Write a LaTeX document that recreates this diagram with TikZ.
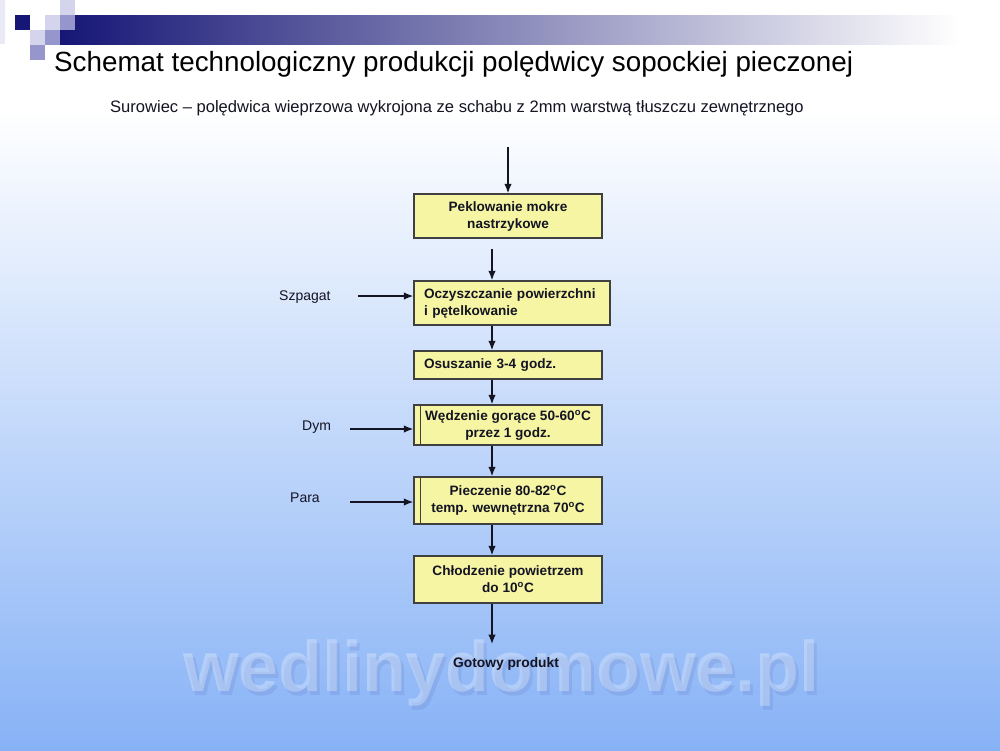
\documentclass[tikz,border=0pt]{standalone}
\usepackage{fontspec}
\setmainfont{Liberation Sans}
\usetikzlibrary{arrows.meta}
\definecolor{boxfill}{RGB}{245,245,163}
\definecolor{boxline}{RGB}{64,64,64}
\definecolor{navy}{RGB}{22,22,118}
\definecolor{lav}{RGB}{212,212,236}
\definecolor{midlav}{RGB}{150,150,204}
\definecolor{skymid}{RGB}{200,216,250}
\definecolor{skyend}{RGB}{135,178,246}
\definecolor{ink}{RGB}{20,20,35}
\tikzstyle{proc} = [draw=boxline, fill=boxfill, line width=1.4pt, text=ink, align=center, minimum width=188pt, inner sep=0pt, font={\bfseries\fontsize{13.6}{17}\selectfont}]
\tikzstyle{lproc} = [proc, align=left, inner xsep=10pt]
\tikzstyle{side} = [anchor=base west, inner sep=0pt, text=ink, font={\fontsize{14}{17}\selectfont}]
\tikzstyle{flow} = [draw=ink, line width=1.4pt, ->]
\tikzstyle{wmark} = [anchor=base west, inner sep=0pt, font={\bfseries\fontsize{71.5}{80}\selectfont}]

\begin{document}
\begin{tikzpicture}[x=1pt,y=-1pt,>={Latex[length=9.5pt,width=7.5pt]}]
        \fill[white](0,0) rectangle (1000,110);
        \shade[top color=white,middle color=skymid,bottom color=skyend](0,110) rectangle (1000,750);
        \useasboundingbox (0,0) rectangle (1000,750);
        \fill[lav!50](0,0) rectangle (5,44);
        \shade[left color=navy,right color=white](60,15) rectangle (960,44);
        \foreach \x/\y/\c in {15/15/navy,45/15/lav,60/0/lav,60/15/midlav,30/30/lav,45/30/midlav,30/45/midlav}
          \fill[\c](\x,\y) rectangle ++(15,15);
        \node[anchor=base west,inner sep=0pt,font={\fontsize{27.8}{32}\selectfont}](title) at (54,71){Schemat technologiczny produkcji polędwicy sopockiej pieczonej};
        \node[side,font={\fontsize{16.55}{19}\selectfont}](sub) at (110,112){Surowiec -- polędwica wieprzowa wykrojona ze schabu z 2mm warstwą tłuszczu zewnętrznego};
        \node[wmark,text=blue!40!black,text opacity=0.07](wms) at (186,695){wedlinydomowe.pl};
        \node[wmark,text=white,text opacity=0.28](wm) at (183,691){wedlinydomowe.pl};
        \node[proc,minimum height=44pt](1) at (508,216){Peklowanie mokre\\nastrzykowe};
        \node[lproc,text width=176pt,minimum height=44pt](2) at (512,303){Oczyszczanie powierzchni\\i pętelkowanie};
        \node[lproc,text width=168pt,minimum height=28pt](3) at (508,365){Osuszanie 3-4 godz.};
        \node[proc,minimum height=40pt](4) at (508,425){Wędzenie gorące 50-60\textsuperscript{o}C\\przez 1 godz.};
        \node[proc,minimum height=47pt](5) at (508,500.5){Pieczenie 80-82\textsuperscript{o}C\\temp. wewnętrzna 70\textsuperscript{o}C};
        \node[proc,minimum height=47pt](6) at (508,579.5){Chłodzenie powietrzem\\do 10\textsuperscript{o}C};
        \node[text=ink,font={\bfseries\fontsize{13.8}{17}\selectfont}](7) at (506,664){Gotowy produkt};
        \draw[boxline,line width=1.2pt]([xshift=7pt]4.north west)--([xshift=7pt]4.south west);
        \draw[boxline,line width=1.2pt]([xshift=7pt]5.north west)--([xshift=7pt]5.south west);
        \node[side](sz) at (279,300){Szpagat};
        \node[side](dym) at (302,430){Dym};
        \node[side](para) at (290,502){Para};
        \coordinate (in) at (508,147);
        \coordinate (c) at (492,249);
        \coordinate (sz0) at (358,296);
        \coordinate (dym0) at (350,429);
        \coordinate (para0) at (350,502);
        \draw[flow](in)--(1);
        \draw[flow](c)--(2.north -| c);
        \draw[flow](2.south -| c)--(3.north -| c);
        \draw[flow](3.south -| c)--(4.north -| c);
        \draw[flow](4.south -| c)--(5.north -| c);
        \draw[flow](5.south -| c)--(6.north -| c);
        \draw[flow,shorten >=10pt](6.south -| c)--(7.north -| c);
        \draw[flow](sz0)--(sz0 -| 2.west);
        \draw[flow](dym0)--(dym0 -| 4.west);
        \draw[flow](para0)--(para0 -| 5.west);
      \end{tikzpicture}
\end{document}
